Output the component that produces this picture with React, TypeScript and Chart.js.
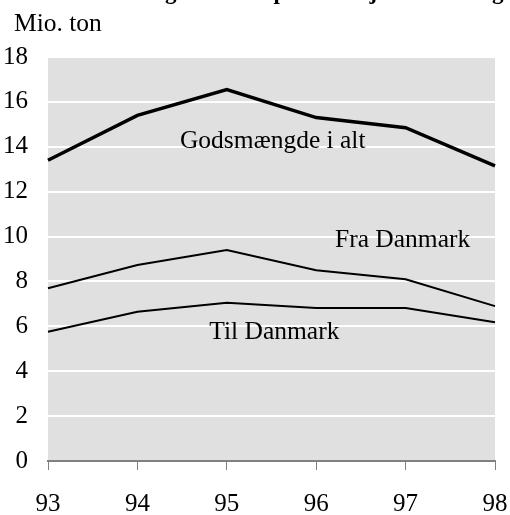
import React, { useEffect, useRef } from 'react';
import { Chart, registerables } from 'chart.js';

Chart.register(...registerables);

const years = ['93', '94', '95', '96', '97', '98'];
const totalValues = [13.4, 15.4, 16.55, 15.3, 14.85, 13.15];
const fromDenmark = [7.7, 8.73, 9.4, 8.5, 8.1, 6.9];
const toDenmark = [5.76, 6.65, 7.05, 6.82, 6.82, 6.18];
const seriesNames = ['Godsmængde i alt', 'Fra Danmark', 'Til Danmark'];
// label anchors in data units: [category index, value] (left, baseline)
const labelX = [1.476, 3.21, 1.804];
const labelY = [13.95, 9.55, 5.44];
const yMin = 0;
const yMax = 18;
const yStep = 2;
const unitText = 'Mio. ton';
const titleText = 'Godsomsætning ved transport med jernbanefærger';

const FONT = '"Liberation Serif", "Times New Roman", serif';

const decor = {
  id: 'decor',
  beforeDraw(chart: any) {
    const { ctx, chartArea: a } = chart;
    ctx.save();
    ctx.fillStyle = '#e0e0e0';
    ctx.fillRect(a.left, a.top, a.right - a.left, a.bottom - a.top);
    ctx.restore();
  },
  afterDatasetsDraw(chart: any) {
    const { ctx } = chart;
    const xs = chart.scales.x;
    const ys = chart.scales.y;
    ctx.save();
    ctx.fillStyle = '#000';
    ctx.textAlign = 'left';
    ctx.textBaseline = 'alphabetic';
    ctx.font = `25.5px ${FONT}`;
    seriesNames.forEach((name, i) => {
      ctx.fillText(name, xs.getPixelForValue(labelX[i]), ys.getPixelForValue(labelY[i]));
    });
    ctx.fillText(unitText, 14, 31);
    ctx.font = `bold 23px ${FONT}`;
    ctx.fillText(titleText, 18, -1.5);
    ctx.restore();
  },
};

export default function App() {
  const ref = useRef<HTMLCanvasElement>(null);
  useEffect(() => {
    if (!ref.current) return;
    const chart = new Chart(ref.current, {
      type: 'line',
      data: {
        labels: years,
        datasets: [
          { label: seriesNames[0], data: totalValues, borderColor: '#000', borderWidth: 3.5, pointRadius: 0, tension: 0 },
          { label: seriesNames[1], data: fromDenmark, borderColor: '#000', borderWidth: 2, pointRadius: 0, tension: 0 },
          { label: seriesNames[2], data: toDenmark, borderColor: '#000', borderWidth: 2, pointRadius: 0, tension: 0 },
        ],
      },
      options: {
        responsive: false,
        animation: false,
        layout: { padding: { top: 57, right: 15, left: 0, bottom: 0 } },
        plugins: { legend: { display: false }, tooltip: { enabled: false }, title: { display: false } },
        scales: {
          x: {
            type: 'category',
            offset: false,
            grid: { drawOnChartArea: false, drawTicks: true, tickLength: 9, color: '#808080', lineWidth: 1 },
            border: { display: true, color: '#808080', width: 2 },
            ticks: { color: '#000', font: { family: FONT, size: 25 }, padding: 19, maxRotation: 0, autoSkip: false },
            afterFit: (s: any) => { s.height = 54; s.paddingLeft = 0; s.paddingRight = 0; },
          },
          y: {
            min: yMin,
            max: yMax,
            grid: { color: '#ffffff', lineWidth: 2, drawTicks: false, tickLength: 0 },
            border: { display: false },
            ticks: { stepSize: yStep, color: '#000', font: { family: FONT, size: 25 }, padding: 20 },
            afterFit: (s: any) => { s.width = 48; s.paddingTop = 0; s.paddingBottom = 0; },
          },
        },
      },
      plugins: [decor],
    });
    return () => chart.destroy();
  }, []);
  return (
    <div style={{ position: 'absolute', left: 0, top: 0, width: 510, height: 515 }}>
      <canvas ref={ref} width={510} height={515} />
    </div>
  );
}
